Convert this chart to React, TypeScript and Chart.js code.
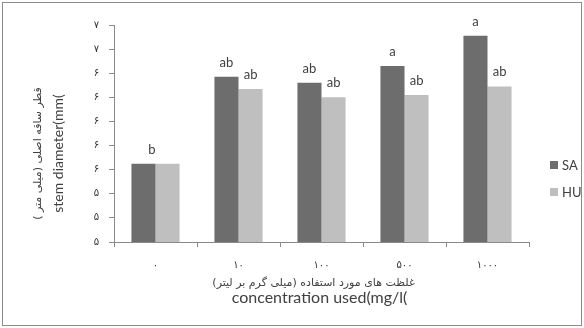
import React, { useEffect, useRef } from 'react';
import { Chart, registerables } from 'chart.js';

Chart.register(...registerables);

// ---- data ----
const categories = ['۰', '۱۰', '۱۰۰', '۵۰۰', '۱۰۰۰'];
const seriesNames = ['SA', 'HU'];
const saValues = [5.65, 6.37, 6.32, 6.46, 6.71];
const huValues = [5.65, 6.27, 6.2, 6.22, 6.29];
const saLetters = ['b', 'ab', 'ab', 'a', 'a'];
const huLetters = ['', 'ab', 'ab', 'ab', 'ab'];
const yTickLabels = ['۵', '۵', '۵', '۶', '۶', '۶', '۶', '۶', '۷', '۷'];
const yMin = 5;
const yMax = 6.8;
const yStep = 0.2;
const yTitlePersian = 'قطر ساقه اصلی (میلی متر )';
const yTitleEnglish = 'stem diameter(mm(';
const xTitlePersian = 'غلظت های مورد استفاده (میلی گرم بر لیتر)';
const xTitleEnglish = 'concentration used(mg/l(';

const SA_COLOR = '#6d6d6d';
const HU_COLOR = '#bfbfbf';
const AXIS_COLOR = '#8a8a8a';
const TEXT_COLOR = '#404040';
const LATIN = "Lato, 'DejaVu Sans', sans-serif";
const PERSIAN = "'DejaVu Sans', sans-serif";
const RLM = '\u200F';

const letterPlugin = {
  id: 'letterLabels',
  afterDatasetsDraw(chart: any) {
    const ctx = chart.ctx;
    const sa = chart.getDatasetMeta(0).data;
    const hu = chart.getDatasetMeta(1).data;
    ctx.save();
    ctx.font = `13px ${LATIN}`;
    ctx.fillStyle = TEXT_COLOR;
    ctx.textAlign = 'center';
    ctx.textBaseline = 'alphabetic';
    for (let i = 0; i < categories.length; i++) {
      if (huLetters[i]) {
        ctx.fillText(saLetters[i], sa[i].x, sa[i].y - 10);
        ctx.fillText(huLetters[i], hu[i].x, hu[i].y - 10);
      } else {
        const x = sa[i].x + (hu[i].x - sa[i].x) * 0.35;
        ctx.fillText(saLetters[i], x, Math.min(sa[i].y, hu[i].y) - 10);
      }
    }
    ctx.restore();
  },
};

const sidePlugin = {
  id: 'sideTexts',
  afterDraw(chart: any) {
    const ctx = chart.ctx;
    const area = chart.chartArea;
    ctx.save();
    // legend
    const ds = chart.data.datasets;
    const bx = area.right + 21;
    const y0 = chart.height / 2 + 1;
    ctx.textAlign = 'left';
    ctx.textBaseline = 'middle';
    ctx.font = `13px ${LATIN}`;
    ds.forEach((d: any, i: number) => {
      const cy = y0 + i * 27;
      ctx.fillStyle = d.backgroundColor;
      ctx.fillRect(bx, cy - 4, 8, 8);
      ctx.fillStyle = TEXT_COLOR;
      ctx.fillText(d.label, bx + 12, cy + 1);
    });

    // y axis title (two rotated lines)
    const cy = (area.top + area.bottom) / 2 + 20;
    ctx.fillStyle = TEXT_COLOR;
    ctx.textAlign = 'center';
    ctx.textBaseline = 'middle';
    ctx.save();
    ctx.translate(35, cy);
    ctx.rotate(-Math.PI / 2);
    ctx.font = `11px ${PERSIAN}`;
    ctx.fillText(RLM + yTitlePersian + RLM, 0, 0);
    ctx.restore();
    ctx.save();
    ctx.translate(55, cy);
    ctx.rotate(-Math.PI / 2);
    ctx.font = `14px ${LATIN}`;
    ctx.fillText(yTitleEnglish, 0, 0);
    ctx.restore();

    // x axis title (two lines)
    const midX = (area.left + area.right) / 2;
    const xb = chart.scales.x.bottom;
    ctx.textAlign = 'center';
    ctx.font = `11px ${PERSIAN}`;
    ctx.fillText(RLM + xTitlePersian + RLM, midX - 8, xb - 42);
    ctx.font = `16px ${LATIN}`;
    ctx.fillText(xTitleEnglish, midX - 2, xb - 27);
    ctx.restore();
  },
};

function BarChart() {
  const ref = useRef<HTMLCanvasElement | null>(null);
  useEffect(() => {
    if (!ref.current) return;
    const chart = new Chart(ref.current, {
      type: 'bar',
      data: {
        labels: categories,
        datasets: [
          { label: seriesNames[0], data: saValues, backgroundColor: SA_COLOR },
          { label: seriesNames[1], data: huValues, backgroundColor: HU_COLOR },
        ],
      },
      options: {
        animation: false,
        responsive: false,
        layout: { padding: { left: 0, right: 52, top: 22, bottom: 0 } },
        datasets: { bar: { categoryPercentage: 0.58, barPercentage: 1 } },
        plugins: { legend: { display: false }, tooltip: { enabled: false } },
        scales: {
          x: {
            offset: true,
            grid: { display: true, drawOnChartArea: false, offset: true, tickLength: 5, color: AXIS_COLOR },
            border: { display: true, color: AXIS_COLOR, width: 1 },
            ticks: { color: '#333333', font: { family: PERSIAN, size: 10 }, padding: 12, maxRotation: 0 },
            afterFit: (s: any) => { s.height = 83; },
          },
          y: {
            min: yMin,
            max: yMax,
            grid: { display: true, drawOnChartArea: false, tickLength: 5, color: AXIS_COLOR },
            border: { display: true, color: AXIS_COLOR, width: 1 },
            ticks: {
              stepSize: yStep,
              color: '#333333',
              font: { family: PERSIAN, size: 10 },
              padding: 10,
              callback: (_v: any, i: number) => yTickLabels[i] ?? '',
            },
            afterFit: (s: any) => { s.width = 111; },
          },
        },
      },
      plugins: [letterPlugin, sidePlugin],
    } as any);
    return () => chart.destroy();
  }, []);
  return <canvas ref={ref} width={578} height={322} style={{ display: 'block' }} />;
}

export default function App() {
  return (
    <div
      style={{
        position: 'fixed',
        left: 2,
        top: 2,
        width: 580,
        height: 324,
        border: '1px solid #8c8c8c',
        boxSizing: 'border-box',
        background: '#fff',
      }}
    >
      <BarChart />
    </div>
  );
}
